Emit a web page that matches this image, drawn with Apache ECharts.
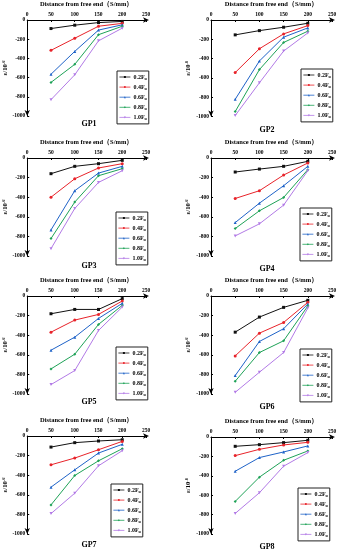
<!DOCTYPE html>
<html><head><meta charset="utf-8">
<script src="https://cdn.jsdelivr.net/npm/echarts@6/dist/echarts.min.js"></script>
<style>html,body{margin:0;padding:0;background:#fff}#c{width:340px;height:550px}</style>
</head><body><div id="c"></div>
<script>
const distances = [50, 100, 150, 200];
const loadLevels = ['0.2', '0.4', '0.6', '0.8', '1.0'];
const panelNames = ['GP1', 'GP2', 'GP3', 'GP4', 'GP5', 'GP6', 'GP7', 'GP8'];
const xTicks = [0, 50, 100, 150, 200, 250];
const yTicks = [0, -200, -400, -600, -800, -1000];

const gp1 = [[-89, -54, -27, -15], [-316, -190, -65, -35], [-565, -327, -105, -50], [-650, -462, -153, -65], [-830, -571, -217, -85]];
const gp2 = [[-154, -110, -75, -34], [-545, -298, -144, -58], [-822, -425, -178, -82], [-949, -514, -233, -116], [-990, -651, -322, -134]];
const gp3 = [[-160, -85, -58, -24], [-400, -212, -102, -58], [-734, -334, -154, -85], [-822, -450, -181, -109], [-925, -515, -249, -130]];
const gp4 = [[-143, -113, -85, -34], [-413, -334, -174, -51], [-659, -461, -283, -85], [-720, -539, -403, -119], [-795, -672, -481, -130]];
const gp5 = [[-181, -137, -137, -27], [-369, -246, -188, -51], [-553, -420, -229, -75], [-744, -594, -290, -96], [-904, -761, -352, -113]];
const gp6 = [[-369, -215, -116, -44], [-611, -379, -270, -65], [-812, -464, -334, -82], [-870, -577, -457, -102], [-983, -778, -577, -123]];
const gp7 = [[-113, -68, -51, -38], [-294, -225, -140, -55], [-522, -345, -174, -85], [-703, -403, -253, -130], [-792, -584, -304, -150]];
const gp8 = [[-96, -79, -58, -34], [-192, -127, -82, -55], [-353, -212, -154, -92], [-664, -414, -240, -144], [-788, -575, -301, -161]];
const panelData = [gp1, gp2, gp3, gp4, gp5, gp6, gp7, gp8];

const colors = ['#111111', '#e8232a', '#1f63c8', '#1ea257', '#b27ae6'];
const symbols = ['rect', 'circle', 'triangle', 'diamond', 'triangle'];

const grids = [
  {left: 24, top: 18, width: 122, height: 98},
  {left: 211, top: 19, width: 121, height: 97.5},
  {left: 24, top: 158, width: 122, height: 98},
  {left: 211, top: 158, width: 121, height: 98},
  {left: 24, top: 296, width: 122, height: 98},
  {left: 211, top: 296, width: 121, height: 98},
  {left: 24, top: 436, width: 122, height: 98},
  {left: 211, top: 437, width: 121, height: 97}
];
const legendPos = [
  {left: 117, top: 71}, {left: 301, top: 69},
  {left: 116, top: 212}, {left: 300, top: 208},
  {left: 116, top: 347}, {left: 300, top: 349},
  {left: 111, top: 484}, {left: 298, top: 488}
];
const gpLabelPos = [
  {x: 89, y: 120}, {x: 267, y: 126},
  {x: 89, y: 262}, {x: 267, y: 265},
  {x: 89, y: 398}, {x: 267, y: 403},
  {x: 89, y: 541}, {x: 267, y: 543}
];

const FONT = 'Liberation Serif';
const axisColor = '#000';

const xAxes = [], yAxes = [], series = [], legends = [], titles = [];
grids.forEach((g, i) => {
  xAxes.push({
    gridIndex: i, type: 'value', position: 'top', min: 0, max: 250, interval: 50,
    name: 'Distance from free end（S/mm）', nameLocation: 'middle', nameGap: 12,
    nameTextStyle: {fontFamily: FONT, fontWeight: 'bold', fontSize: 6.5, color: '#000'},
    axisLine: {onZero: false, symbol: ['none', 'arrow'], symbolSize: [4, 6], symbolOffset: [0, 3], lineStyle: {color: axisColor, width: 1}},
    axisTick: {show: true, inside: true, length: 2, lineStyle: {color: axisColor}},
    axisLabel: {fontFamily: FONT, fontWeight: 'bold', fontSize: 5.5, color: '#000', margin: 2},
    splitLine: {show: false}
  });
  yAxes.push({
    gridIndex: i, type: 'value', min: -1000, max: 0, interval: 200,
    name: 'ε/10{s|-6}', nameLocation: 'middle', nameGap: 14, nameRotate: 90,
    nameTextStyle: {fontFamily: FONT, fontWeight: 'bold', fontSize: 6.5, color: '#000',
      rich: {s: {fontSize: 4.5, fontFamily: FONT, fontWeight: 'bold', verticalAlign: 'top', padding: [0, 0, 3, 0]}}},
    axisLine: {onZero: false, symbol: ['arrow', 'none'], symbolSize: [4, 6], lineStyle: {color: axisColor, width: 1}},
    axisTick: {show: true, inside: true, length: 2, lineStyle: {color: axisColor}},
    axisLabel: {fontFamily: FONT, fontWeight: 'bold', fontSize: 5.5, color: '#000', margin: 2, formatter: v => String(v)},
    splitLine: {show: false}
  });
  panelData[i].forEach((vals, k) => {
    series.push({
      name: loadLevels[k], type: 'line', xAxisIndex: i, yAxisIndex: i,
      data: distances.map((d, j) => [d, vals[j]]),
      symbol: symbols[k], symbolSize: 3, symbolRotate: k === 4 ? 180 : 0,
      itemStyle: {color: colors[k]}, lineStyle: {color: colors[k], width: 1},
      animation: false
    });
  });
  legends.push({
    left: legendPos[i].left, top: legendPos[i].top, orient: 'vertical',
    data: loadLevels, itemWidth: 11, itemHeight: 2.5, itemGap: 3.6,
    itemStyle: {borderWidth: 0},
    lineStyle: {width: 0.8},
    padding: [3, 2, 3, 2], borderColor: '#222', borderWidth: 1,
    formatter: n => n + 'F{s|u}',
    textStyle: {fontFamily: FONT, fontWeight: 'bold', fontSize: 6, color: '#000', padding: [0, 0, 0, -2],
      rich: {s: {fontSize: 4, fontFamily: FONT, fontWeight: 'bold', verticalAlign: 'bottom', padding: [3, 0, 0, 0]}}}
  });
  titles.push({
    text: panelNames[i], left: gpLabelPos[i].x, top: gpLabelPos[i].y, textAlign: 'center',
    textStyle: {fontFamily: FONT, fontWeight: 'bold', fontSize: 8, color: '#000'}, padding: 0
  });
});

const chart = echarts.init(document.getElementById('c'), null, {renderer: 'canvas'});
chart.setOption({
  animation: false,
  backgroundColor: '#fff',
  title: titles,
  grid: grids,
  xAxis: xAxes,
  yAxis: yAxes,
  legend: legends,
  series: series
});
</script>
</body></html>
